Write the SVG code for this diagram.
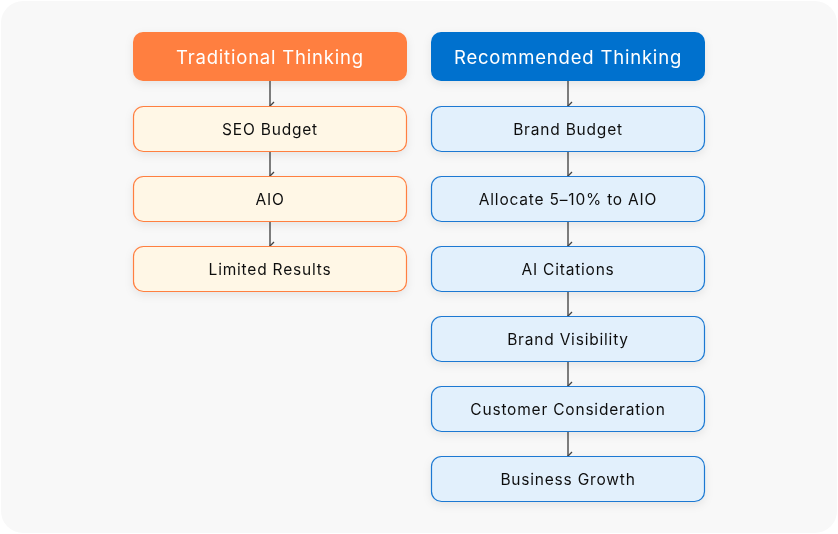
<svg xmlns="http://www.w3.org/2000/svg" width="838" height="534" viewBox="0 0 838 534">
<defs>
<filter id="sh" x="-10%" y="-30%" width="120%" height="170%">
<feDropShadow dx="0" dy="3" stdDeviation="4" flood-color="#000" flood-opacity="0.08"/>
</filter>
<marker id="ar" viewBox="0 0 10 10" refX="5" refY="9" markerWidth="10" markerHeight="10" markerUnits="userSpaceOnUse" orient="auto-start-reverse">
<path d="M1,5 L5,9 L9,5" fill="none" stroke="#444" stroke-width="1.3"/>
</marker>
</defs>
<style>
text{font-family:Inter,"Open Sans","Liberation Sans",sans-serif;text-anchor:middle;dominant-baseline:central}
.hd{font-size:18.5px;fill:#fff;letter-spacing:0.8px}
.bx{font-size:15.5px;fill:#111;letter-spacing:0.8px}
.lb{fill:#FFF7E6;stroke:#FF7F3F;stroke-width:1.2}
.rb{fill:#E2F0FC;stroke:#1A78D2;stroke-width:1.2}
.c{stroke:#555;stroke-width:1.5;fill:none;marker-end:url(#ar)}
</style>
<rect x="0" y="0" width="838" height="534" fill="#fff"/>
<rect x="1" y="1" width="836" height="532" rx="22" fill="#F8F8F8"/>
<g id="connectors">
<line class="c" x1="270" y1="81" x2="270" y2="106"/>
<line class="c" x1="270" y1="151" x2="270" y2="176"/>
<line class="c" x1="270" y1="221" x2="270" y2="246"/>
<line class="c" x1="568" y1="81" x2="568" y2="106"/>
<line class="c" x1="568" y1="151" x2="568" y2="176"/>
<line class="c" x1="568" y1="221" x2="568" y2="246"/>
<line class="c" x1="568" y1="291" x2="568" y2="316"/>
<line class="c" x1="568" y1="361" x2="568" y2="386"/>
<line class="c" x1="568" y1="431" x2="568" y2="456"/>
</g>
<g id="trad-header" filter="url(#sh)"><rect x="133" y="32" width="274" height="49" rx="10" fill="#FF7F3F"/><text class="hd" x="270" y="57">Traditional Thinking</text></g>
<g id="seo-budget" filter="url(#sh)"><rect class="lb" x="133.5" y="106.5" width="273" height="45" rx="10"/><text class="bx" x="270" y="129">SEO Budget</text></g>
<g id="aio" filter="url(#sh)"><rect class="lb" x="133.5" y="176.5" width="273" height="45" rx="10"/><text class="bx" x="270" y="199">AIO</text></g>
<g id="limited-results" filter="url(#sh)"><rect class="lb" x="133.5" y="246.5" width="273" height="45" rx="10"/><text class="bx" x="270" y="269">Limited Results</text></g>
<g id="rec-header" filter="url(#sh)"><rect x="431" y="32" width="274" height="49" rx="10" fill="#0071CE"/><text class="hd" x="568" y="57">Recommended Thinking</text></g>
<g id="brand-budget" filter="url(#sh)"><rect class="rb" x="431.5" y="106.5" width="273" height="45" rx="10"/><text class="bx" x="568" y="129">Brand Budget</text></g>
<g id="allocate" filter="url(#sh)"><rect class="rb" x="431.5" y="176.5" width="273" height="45" rx="10"/><text class="bx" x="568" y="199">Allocate 5–10% to AIO</text></g>
<g id="ai-citations" filter="url(#sh)"><rect class="rb" x="431.5" y="246.5" width="273" height="45" rx="10"/><text class="bx" x="568" y="269">AI Citations</text></g>
<g id="brand-visibility" filter="url(#sh)"><rect class="rb" x="431.5" y="316.5" width="273" height="45" rx="10"/><text class="bx" x="568" y="339">Brand Visibility</text></g>
<g id="customer-consideration" filter="url(#sh)"><rect class="rb" x="431.5" y="386.5" width="273" height="45" rx="10"/><text class="bx" x="568" y="409">Customer Consideration</text></g>
<g id="business-growth" filter="url(#sh)"><rect class="rb" x="431.5" y="456.5" width="273" height="45" rx="10"/><text class="bx" x="568" y="479">Business Growth</text></g>
</svg>
